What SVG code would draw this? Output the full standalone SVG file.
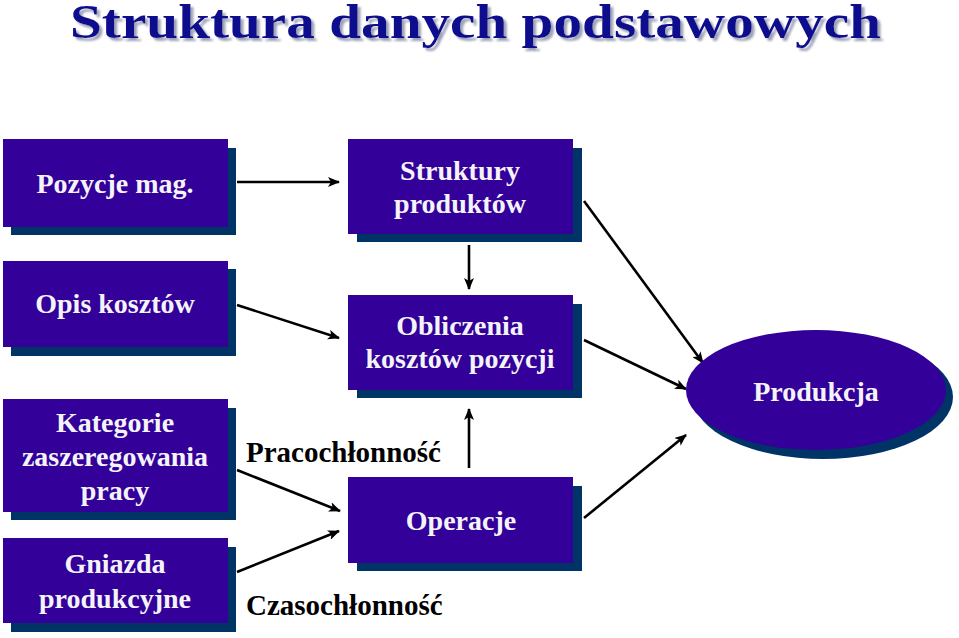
<svg xmlns="http://www.w3.org/2000/svg" width="959" height="638" viewBox="0 0 959 638">
<style>
text{font-family:'Liberation Serif','Times New Roman',serif;font-weight:bold}
.sh{fill:#003366}
.fr{fill:#330099}
.t{font-size:28px;fill:#f4f4f8;text-anchor:middle}
.lb{font-size:29px;fill:#000}
.c{stroke:#000;stroke-width:2.6;fill:none;marker-end:url(#ah)}
.ttl{font-size:49px;fill:#0b0b8e}
</style>
<defs>
<marker id="ah" viewBox="0 0 12 10" refX="11" refY="5" markerWidth="12" markerHeight="10" markerUnits="userSpaceOnUse" orient="auto">
<path d="M0,0 L12,5 L0,10 L3,5 Z" fill="#000"/>
</marker>
<filter id="tsh" x="-5%" y="-20%" width="110%" height="150%">
<feOffset in="SourceAlpha" dx="3" dy="3" result="o"/>
<feGaussianBlur in="o" stdDeviation="1" result="b"/>
<feFlood flood-color="#9ea2b8"/>
<feComposite in2="b" operator="in" result="s"/>
<feMerge><feMergeNode in="s"/><feMergeNode in="SourceGraphic"/></feMerge>
</filter>
</defs>
<rect width="959" height="638" fill="#fff"/>
<g id="title">
<text class="ttl" x="70" y="38" textLength="811" lengthAdjust="spacingAndGlyphs" filter="url(#tsh)">Struktura danych podstawowych</text>
</g>
<g id="connectors">
<line class="c" x1="237" y1="182" x2="339" y2="182"/>
<line class="c" x1="469" y1="245" x2="469" y2="289"/>
<line class="c" x1="237" y1="305" x2="339" y2="338"/>
<line class="c" x1="584" y1="201" x2="703" y2="363"/>
<line class="c" x1="584" y1="340" x2="686" y2="389"/>
<line class="c" x1="584" y1="518" x2="686" y2="435"/>
<line class="c" x1="469" y1="468" x2="469" y2="409"/>
<line class="c" x1="237" y1="470" x2="340" y2="511"/>
<line class="c" x1="237" y1="572" x2="339" y2="531"/>
</g>
<g id="pozycje">
<rect class="sh" x="11" y="148" width="225" height="87"/>
<rect class="fr" x="3" y="139" width="225" height="88"/>
<text class="t" x="115" y="193">Pozycje mag.</text>
</g>
<g id="struktury">
<rect class="sh" x="357" y="148" width="225" height="94"/>
<rect class="fr" x="348" y="139" width="225" height="95"/>
<text class="t" x="460" y="180">Struktury</text>
<text class="t" x="460" y="213">produktów</text>
</g>
<g id="opis">
<rect class="sh" x="11" y="269" width="225" height="87"/>
<rect class="fr" x="3" y="261" width="225" height="86"/>
<text class="t" x="115" y="313">Opis kosztów</text>
</g>
<g id="obliczenia">
<rect class="sh" x="357" y="304" width="225" height="94"/>
<rect class="fr" x="348" y="295" width="225" height="95"/>
<text class="t" x="460" y="335">Obliczenia</text>
<text class="t" x="460" y="368">kosztów pozycji</text>
</g>
<g id="kategorie">
<rect class="sh" x="11" y="408" width="225" height="112"/>
<rect class="fr" x="3" y="399" width="225" height="113"/>
<text class="t" x="115" y="432">Kategorie</text>
<text class="t" x="115" y="466">zaszeregowania</text>
<text class="t" x="115" y="500">pracy</text>
</g>
<g id="gniazda">
<rect class="sh" x="11" y="547" width="225" height="85"/>
<rect class="fr" x="3" y="538" width="225" height="85"/>
<text class="t" x="115" y="573">Gniazda</text>
<text class="t" x="115" y="608">produkcyjne</text>
</g>
<g id="operacje">
<rect class="sh" x="357" y="486" width="225" height="85"/>
<rect class="fr" x="348" y="477" width="225" height="86"/>
<text class="t" x="461" y="530">Operacje</text>
</g>
<g id="produkcja">
<ellipse class="sh" cx="823" cy="397" rx="130" ry="62"/>
<ellipse class="fr" cx="816" cy="390" rx="130" ry="60"/>
<text class="t" x="816" y="401">Produkcja</text>
</g>
<g id="labels">
<text class="lb" x="246" y="462">Pracochłonność</text>
<text class="lb" x="246" y="615">Czasochłonność</text>
</g>
</svg>
